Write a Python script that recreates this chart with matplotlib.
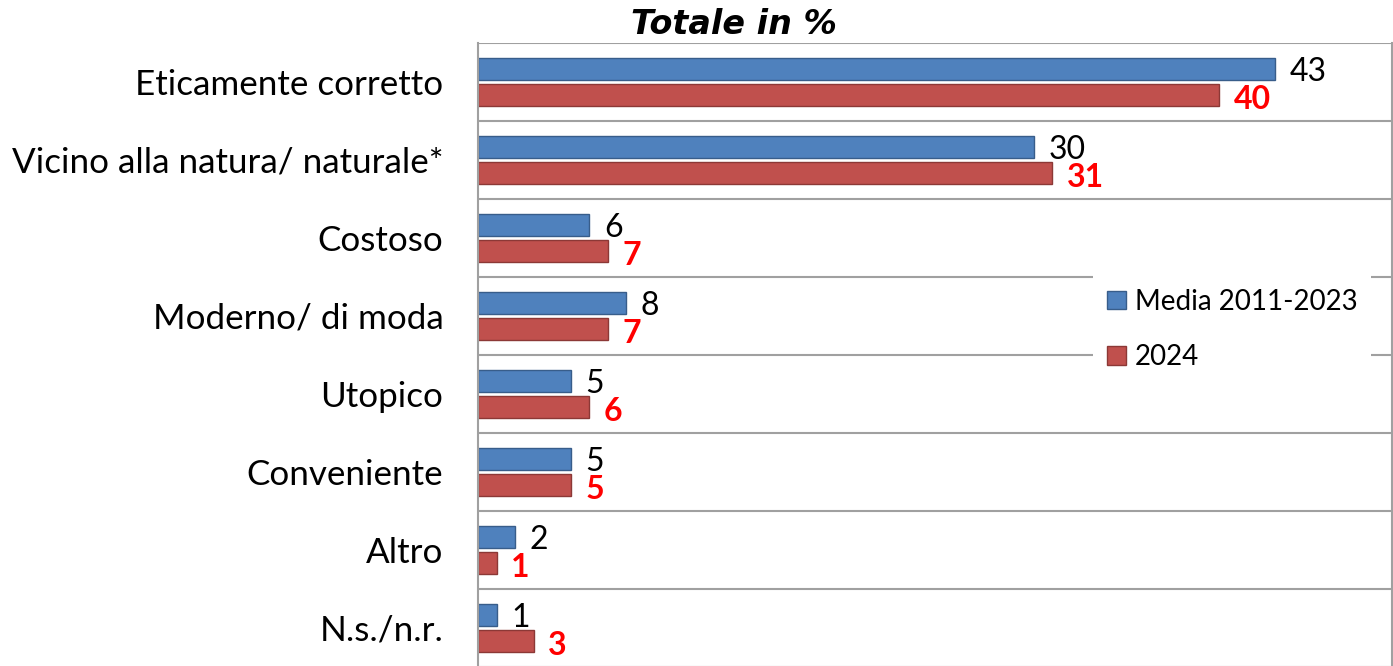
import matplotlib
matplotlib.use("Agg")
import matplotlib.pyplot as plt
from matplotlib.patches import Patch
import numpy as np

categories = ["Eticamente corretto", "Vicino alla natura/ naturale*", "Costoso",
              "Moderno/ di moda", "Utopico", "Conveniente", "Altro", "N.s./n.r."]
media = [43, 30, 6, 8, 5, 5, 2, 1]
y2024 = [40, 31, 7, 7, 6, 5, 1, 3]
series_names = ["Media 2011-2023", "2024"]
title = "Totale in %"

W, H = 1393, 666
fig = plt.figure(figsize=(W / 100, H / 100), dpi=100)
ax = fig.add_axes([478 / W, (H - 667) / H, (1392 - 478) / W, (667 - 43) / H])

n = len(categories)
pos = np.arange(n)
bh = 0.28
off = 0.167
blue, blue_e = "#4F81BD", "#385D8A"
red, red_e = "#C0504D", "#8C3836"

ax.barh(pos - off, media, height=bh, color=blue, edgecolor=blue_e, linewidth=1)
ax.barh(pos + off, y2024, height=bh, color=red, edgecolor=red_e, linewidth=1)

ax.set_xlim(0, 49.33)
ax.set_ylim(n - 0.5, -0.5)

lab_font = "Lato"
for i, (a, b) in enumerate(zip(media, y2024)):
    ax.annotate(str(a), (a, i - off), xytext=(10.5, -2), textcoords="offset points",
                va="center", ha="left", fontsize=23, family=lab_font, color="black")
    ax.annotate(str(b), (b, i + off), xytext=(10.5, -3), textcoords="offset points",
                va="center", ha="left", fontsize=23, family=lab_font,
                color="#FF0000", fontweight="bold")

# gridlines between categories
for k in range(n + 1):
    ax.axhline(k - 0.5, color="#A0A0A0", linewidth=1.5, zorder=0)

ax.set_yticks(pos)
ax.set_yticklabels(categories, fontsize=25.2, family=lab_font)
ax.tick_params(axis="y", length=0, pad=25)
ax.set_xticks([])
for s in ["top", "bottom"]:
    ax.spines[s].set_visible(False)
for s in ["left", "right"]:
    ax.spines[s].set_color("#A0A0A0")
    ax.spines[s].set_linewidth(1.5)

handles = [Patch(facecolor=blue, edgecolor=blue_e), Patch(facecolor=red, edgecolor=red_e)]
leg = ax.legend(handles, series_names, loc="upper left",
                bbox_to_anchor=((1093 - 478) / (1392 - 478), (667 - 275) / 624),
                borderaxespad=0,
                frameon=True, fancybox=False, framealpha=1, edgecolor="white",
                prop={"family": lab_font, "size": 20}, handlelength=0.7,
                handleheight=0.65, handletextpad=0.3, labelspacing=1.05,
                borderpad=0.5)
leg.get_frame().set_linewidth(0)

fig.text(734 / W, 1 - 24 / H, title, ha="center", va="center", fontsize=24,
         fontweight="bold", fontstyle="italic", family="DejaVu Sans")

fig.savefig("out.png", dpi=100)
